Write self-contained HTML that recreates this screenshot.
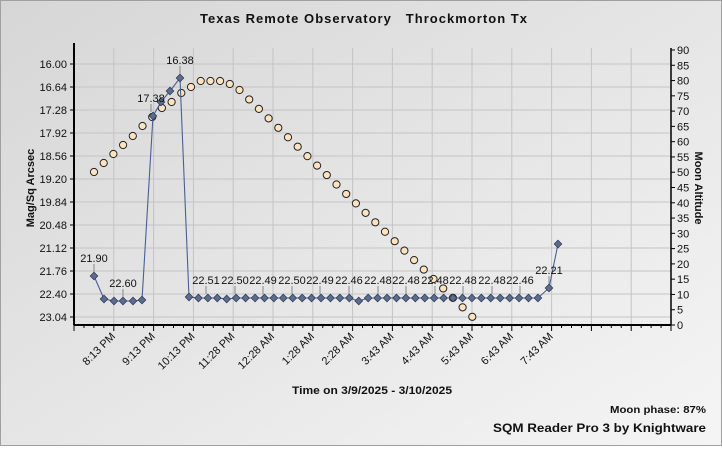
<!DOCTYPE html>
<html><head><meta charset="utf-8"><style>
html,body{margin:0;padding:0;}
body{width:722px;height:446px;overflow:hidden;font-family:"Liberation Sans",Arial,sans-serif;}
</style></head><body>
<svg id="s" width="722" height="446" xmlns="http://www.w3.org/2000/svg" font-family="Liberation Sans, Arial, sans-serif">
<defs>
<linearGradient id="bg" x1="0" y1="0" x2="1" y2="1">
<stop offset="0" stop-color="#d6d6d6"/><stop offset="1" stop-color="#f5f5f5"/>
</linearGradient>
</defs>
<rect x="0" y="0" width="722" height="446" fill="url(#bg)"/>
<rect x="0.5" y="0.5" width="721" height="445" fill="none" stroke="#a0a0a0"/>
<text x="200" y="23" font-size="13" font-weight="bold" fill="#111" textLength="327" lengthAdjust="spacing" style="white-space:pre">Texas Remote Observatory   Throckmorton Tx</text>
<g id="grid"></g>
<g id="moon"></g>
<g id="sqm"></g>
<g id="axes"></g>
<text transform="translate(34,188) rotate(-90)" text-anchor="middle" font-size="11" font-weight="bold" fill="#111">Mag/Sq Arcsec</text>
<text transform="translate(695,188) rotate(90)" text-anchor="middle" font-size="11" font-weight="bold" fill="#111">Moon Altitude</text>
<text x="292" y="394" font-size="11" font-weight="bold" fill="#111" textLength="160" lengthAdjust="spacingAndGlyphs">Time on 3/9/2025 - 3/10/2025</text>
<text x="610" y="413" font-size="10" font-weight="bold" fill="#111" textLength="96" lengthAdjust="spacingAndGlyphs">Moon phase: 87%</text>
<text x="493" y="432" font-size="12" font-weight="bold" fill="#111" textLength="213" lengthAdjust="spacingAndGlyphs">SQM Reader Pro 3 by Knightware</text>
</svg>
<script>
var NS="http://www.w3.org/2000/svg";
function el(p,t,a,txt){var e=document.createElementNS(NS,t);for(var k in a)e.setAttribute(k,a[k]);if(txt!=null)e.textContent=txt;document.getElementById(p).appendChild(e);return e;}
var L=74,R=671,T=48,B=325,step=(R-L)/15;
function ym(v){return 64+(v-16)/0.64*23;}
function ya(a){return 325-a*275/90;}
for(var i=1;i<15;i++){var x=L+i*step;el("grid","line",{x1:x,y1:T,x2:x,y2:B,stroke:"#c4c4c4","stroke-width":1});}
var lv=["16.00","16.64","17.28","17.92","18.56","19.20","19.84","20.48","21.12","21.76","22.40","23.04"];
lv.forEach(function(v){var y=ym(parseFloat(v));el("grid","line",{x1:L,y1:y,x2:R,y2:y,stroke:"#c4c4c4"});
el("axes","line",{x1:L-4,y1:y,x2:L,y2:y,stroke:"#000"});
el("axes","text",{x:L-7,y:y+4,"text-anchor":"end","font-size":"11",fill:"#111"},v);});
for(var a=0;a<=90;a+=5){var y=ya(a);el("axes","line",{x1:R,y1:y,x2:R+4,y2:y,stroke:"#000"});
el("axes","text",{x:R+6,y:y+4,"font-size":"11",fill:"#111"},String(a));}
el("axes","line",{x1:L,y1:T-5,x2:L,y2:B,stroke:"#000","stroke-width":2});
el("axes","line",{x1:L,y1:B,x2:R,y2:B,stroke:"#000","stroke-width":2});
el("axes","line",{x1:R,y1:T,x2:R,y2:B,stroke:"#000","stroke-width":1.5});
for(var i=0;i<=60;i++){var x=L+i*step/4;el("axes","line",{x1:x,y1:B,x2:x,y2:B+(i%4==0?6:3),stroke:"#000"});}
var tl=["8:13 PM","9:13 PM","10:13 PM","11:28 PM","12:28 AM","1:28 AM","2:28 AM","3:43 AM","4:43 AM","5:43 AM","6:43 AM","7:43 AM"];
tl.forEach(function(t,i){var x=L+(i+1)*step+2;el("axes","text",{transform:"translate("+x+","+(B+12)+") rotate(-45)","text-anchor":"end","font-size":"11",fill:"#111"},t);});
var my=[172,163,154,145,136,126,117,108,102,93,87,81,81,81,84,90];
for(var i=16;i<=39;i++)my.push(90+(i-15)*9.45);
for(var i=0;i<my.length;i++){var x=94+i*9.7;el("moon","circle",{cx:x,cy:my[i],r:3.6,fill:"#fde3c0",stroke:"#222","stroke-width":1});}
var pts=[[94,276],[104,299],[114,301],[123,301],[133,301],[142,300],[153,116],[161,102],[170,91],[180,78],[189,297]];
var dips={4:299,18:301};
for(var i=1;i<=37;i++){var y=298;if(dips[i])y=dips[i];pts.push([189+i*9.43,y]);}
pts.push([549,288]);pts.push([558,244]);
el("sqm","polyline",{points:pts.map(function(p){return p.join(",")}).join(" "),fill:"none",stroke:"#4a5f95","stroke-width":1.1});
pts.forEach(function(p){el("sqm","rect",{x:p[0]-2.7,y:p[1]-2.7,width:5.4,height:5.4,fill:"#5b6d8e",stroke:"#2b3550","stroke-width":0.7,transform:"rotate(45 "+p[0]+" "+p[1]+")"});});
var labs=[[94,276,"21.90"],[123,301,"22.60"],[151,116,"17.38"],[180,78,"16.38"],[206,298,"22.51"],[235,298,"22.50"],[263,298,"22.49"],[292,298,"22.50"],[320,298,"22.49"],[349,298,"22.46"],[378,298,"22.48"],[406,298,"22.48"],[435,298,"22.48"],[463,298,"22.48"],[492,298,"22.48"],[520,298,"22.46"],[549,288,"22.21"]];
labs.forEach(function(l){var ty=l[1]-13;el("sqm","line",{x1:l[0],y1:l[1]-4,x2:l[0],y2:ty+1,stroke:"#888"});
el("sqm","text",{x:l[0],y:ty-1,"text-anchor":"middle","font-size":"11",fill:"#111"},l[2]);});
</script>
</body></html>
